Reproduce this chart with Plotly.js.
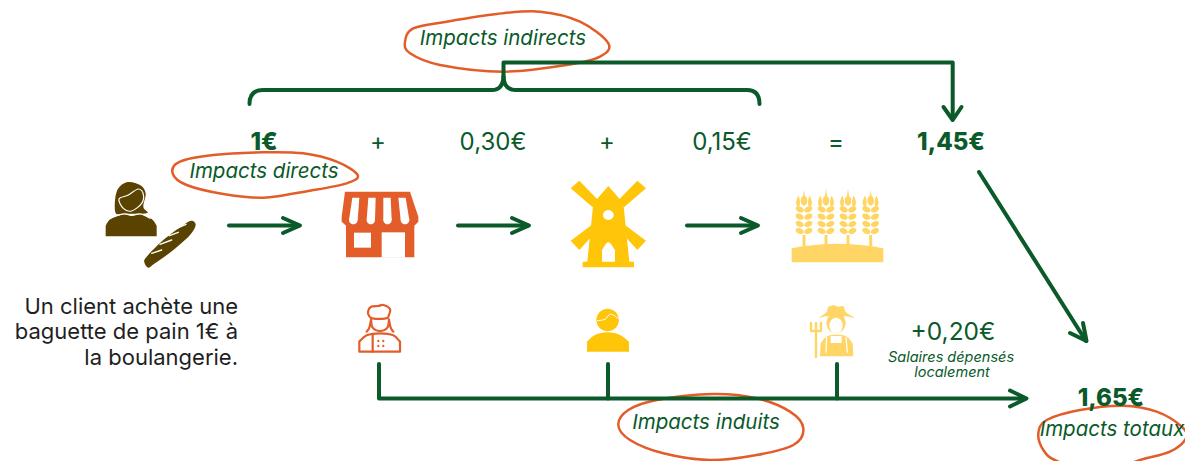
<!DOCTYPE html>
<html><head><meta charset="utf-8">
<script src="https://cdn.plot.ly/plotly-3.0.1.min.js"></script>
<style>html,body{margin:0;padding:0;background:#fff;overflow:hidden}
.shapelayer path{stroke-linecap:round;stroke-linejoin:round}</style>
</head><body><div id="chart" style="width:1185px;height:461px"></div>
<script>
// ---- content
const stepAmounts = ["+","0,30€","+","0,15€","="];
const totalAmounts = ["1€","1,45€","1,65€"];
const inducedAmount = ["+0,20€"];
const impactLabels = ["Impacts indirects","Impacts directs","Impacts induits","Impacts totaux"];
const captionLines = ["Salaires dépensés","localement"];
const descriptionLines = ["Un client achète une","baguette de pain 1€ à","la boulangerie."];

// ---- palette
const GREEN="#0a5a2a", ORANGE="#e25d2a", YELLOW="#ffc509", PALE="#ffd666", BROWN="#5a4300", WHITE="#ffffff";
const FONT="Inter, 'Open Sans', sans-serif";

// ---- path helpers (outlines are read in 3x zoom crops, origin ox/oy)
const map=(o,p)=>[o[0]+p[0]/3,o[1]+p[1]/3];
const fmt=p=>p[0].toFixed(2)+","+p[1].toFixed(2);
const poly=(o,pts,closed=true)=>"M"+pts.map(p=>fmt(map(o,p))).join("L")+(closed?"Z":"");
function curve(o,pts,closed=true){
  const P=pts.map(p=>map(o,p)),n=P.length;let d="M"+fmt(P[0]);
  const g=i=>closed?P[(i+n)%n]:P[Math.max(0,Math.min(n-1,i))];
  for(let i=0;i<(closed?n:n-1);i++){
    const a=g(i-1),b=g(i),c=g(i+1),e=g(i+2);
    d+="C"+fmt([b[0]+(c[0]-a[0])/6,b[1]+(c[1]-a[1])/6])+" "+fmt([c[0]-(e[0]-b[0])/6,c[1]-(e[1]-b[1])/6])+" "+fmt(c);
  }
  return d+(closed?"Z":"");
}
function oval(o,cx,cy,rx,ry,deg=0){
  const t=deg*Math.PI/180,pts=[];
  for(let i=0;i<8;i++){const a=i*Math.PI/4,x=rx*Math.cos(a),y=ry*Math.sin(a);
    pts.push([cx+x*Math.cos(t)-y*Math.sin(t),cy+x*Math.sin(t)+y*Math.cos(t)]);}
  return curve(o,pts);
}
const shapes=[];
const fill=(path,color)=>shapes.push({type:"path",xref:"x",yref:"y",layer:"below",path,fillcolor:color,line:{width:0}});
const stroke=(path,color,width)=>shapes.push({type:"path",xref:"x",yref:"y",layer:"below",path,fillcolor:"rgba(0,0,0,0)",line:{color,width}});

// ---- hand-drawn ovals
const OW=2.5;
stroke(curve([380,0],[[75,125],[100,85],[200,65],[350,42],[480,35],[600,65],[685,130],[660,170],[560,195],[370,215],[180,195],[90,160]]),ORANGE,OW);
stroke(curve([130,120],[[128,160],[150,125],[250,105],[400,97],[520,100],[620,125],[683,165],[650,190],[540,212],[400,233],[280,222],[170,195]]),ORANGE,OW);
stroke(curve([590,390],[[85,105],[115,60],[200,30],[370,12],[500,25],[600,65],[640,115],[610,165],[500,195],[360,210],[220,190],[120,150]]),ORANGE,OW);
stroke(curve([880,310],[[475,370],[500,330],[600,300],[730,287],[830,305],[905,350],[918,385],[870,425],[780,450],[650,490],[530,453],[490,420]]),ORANGE,OW);

// ---- connectors
const GW=4;
const line=(pts)=>stroke(poly([0,0],pts.map(p=>[p[0]*3,p[1]*3]),false),GREEN,GW);
stroke("M249.5,104 Q249.5,90 263,90 L492,90 Q503,90 503.5,76 Q504,90 515,90 L747,90 Q759.5,90 759.5,104",GREEN,GW);
line([[503.5,78],[503.5,62.5],[952.7,62.5],[952.7,119]]);
line([[943.5,107],[952.7,120],[961.5,107]]);
[[229,299],[458,528],[687,757]].forEach(a=>{
  line([[a[0],225.5],[a[1],225.5]]);
  line([[a[1]-16,218],[a[1]+1,225.5],[a[1]-16,233]]);
});
line([[979,172],[1086,341]]);
line([[1070,333],[1086.5,341],[1083,323]]);
line([[379,364],[379,398.5],[1025,398.5]]);
line([[1010,390.5],[1026.5,398.5],[1010,406.5]]);
line([[608,364],[608,398.5]]);
line([[837,364],[837,398.5]]);

// ---- customer and baguette
const pO=[100,175];
fill(curve(pO,[[46,112],[50,50],[80,22],[120,30],[137,55],[130,95],[143,113],[115,116],[70,116]]),BROWN);
fill(curve(pO,[[17,152],[32,132],[72,118],[95,122],[120,118],[155,132],[170,152]],false)+"L"+fmt(map(pO,[170,184]))+"L"+fmt(map(pO,[17,184]))+"Z",BROWN);
stroke(curve(pO,[[57,72],[85,60],[115,42],[130,58],[125,85],[95,108],[70,100]]),WHITE,1.2);
stroke(curve(pO,[[28,130],[70,117],[95,121],[122,117],[150,130]],false),WHITE,1.2);
fill(curve(pO,[[133,262],[140,245],[190,195],[250,150],[275,137],[287,150],[270,180],[220,225],[165,265],[145,278]]),BROWN);
[[[155,235],[185,225]],[[180,208],[215,195]],[[208,182],[235,172]],[[230,160],[258,148]]].forEach(s=>stroke(poly(pO,s,false),WHITE,1.4));

// ---- shop
const sO=[335,185];
fill(poly(sO,[[30,20],[225,20],[250,95],[250,110],[238,122],[238,217],[33,217],[33,122],[20,110],[20,95]]),ORANGE);
[[[52,38],[73,38],[68,105],[42,105]],[[100,38],[122,38],[120,105],[95,105]],[[145,38],[167,38],[170,105],[145,105]],[[190,38],[212,38],[223,105],[197,105]]].forEach(s=>{
  fill(poly(sO,s),WHITE);
  fill(oval(sO,(s[2][0]+s[3][0])/2,105,(s[2][0]-s[3][0])/2,13),WHITE);
});
fill(poly(sO,[[57,143],[108,143],[108,188],[57,188]]),WHITE);
fill(poly(sO,[[140,142],[210,142],[210,218],[140,218]]),WHITE);

// ---- mill
const mO=[540,170];
const arms=[[[92,55],[118,32],[172,88],[158,112]],[[92,212],[155,165],[150,205],[118,240]]];
arms.forEach(a=>{fill(poly(mO,a),YELLOW);fill(poly(mO,a.map(p=>[410-p[0],p[1]])),YELLOW);});
fill(poly(mO,[[205,48],[250,100],[268,275],[282,275],[282,292],[128,292],[128,275],[142,275],[160,100]]),YELLOW);
fill(oval(mO,205,135,16,15),WHITE);
fill(curve(mO,[[186,240],[205,217],[225,240]],false)+"L"+fmt(map(mO,[225,275]))+"L"+fmt(map(mO,[186,275]))+"Z",WHITE);

// ---- wheat
const wO=[785,180];
[57,123,189,257].forEach((cx,i)=>{
  const top=(i===1||i===2)?25:30;
  fill(poly(wO,[[cx-4,55],[cx,top],[cx+4,55]]),PALE);
  fill(oval(wO,cx,62,10,15),PALE);
  [-1,1].forEach(s=>{
    fill(curve(wO,[[cx+s*17,48],[cx+s*24,68],[cx+s*16,84],[cx+s*12,66]]),PALE);
    [88,110,132,153].forEach(y=>fill(oval(wO,cx+s*13,y,13,8.5,s*-25),PALE));
  });
  fill(poly(wO,[[cx-4.5,165],[cx+4.5,165],[cx+4.5,200],[cx-4.5,200]]),PALE);
});
fill("M"+fmt(map(wO,[20,205]))+"Q"+fmt(map(wO,[157,178]))+" "+fmt(map(wO,[295,205]))+"L"+fmt(map(wO,[295,247]))+"L"+fmt(map(wO,[20,247]))+"Z",PALE);

// ---- chef outline
const cO=[350,295], CW=2.2;
stroke(curve(cO,[[54,50],[62,36],[85,33],[100,30],[120,42],[116,62],[108,70],[67,70],[57,62]]),ORANGE,CW);
stroke(curve(cO,[[63,74],[68,98],[90,108],[112,98],[117,74]],false),ORANGE,CW);
stroke(curve(cO,[[63,74],[58,98],[50,110]],false),ORANGE,CW);
stroke(curve(cO,[[117,74],[122,98],[130,110]],false),ORANGE,CW);
stroke(curve(cO,[[28,140],[50,121],[90,115],[130,121],[150,140]],false)+"L"+fmt(map(cO,[150,170]))+"L"+fmt(map(cO,[28,170]))+"Z",ORANGE,CW);
stroke(poly(cO,[[68,118],[68,170]],false),ORANGE,CW);
[[85,138],[100,138],[85,153],[100,153]].forEach(p=>fill(oval(cO,p[0],p[1],3.5,3.5),ORANGE));

// ---- miller
fill(oval(mO,203,450,34,34),YELLOW);
stroke(curve(mO,[[172,452],[195,448],[212,432],[237,447]],false),WHITE,1);
fill(curve(mO,[[141,515],[165,495],[203,487],[240,495],[267,515]],false)+"L"+fmt(map(mO,[267,545]))+"L"+fmt(map(mO,[141,545]))+"Z",YELLOW);

// ---- farmer
const fO=[800,295];
fill(oval(fO,108,84,29,31),PALE);
fill(poly(fO,[[55,70],[80,52],[85,35],[100,30],[115,35],[130,32],[137,52],[165,70],[140,64],[75,64]]),PALE);
fill(oval(fO,108,92,20,24),WHITE);
stroke(poly(fO,[[33,84],[33,108],[63,108],[63,84]],false),PALE,2.4);
stroke(poly(fO,[[48,84],[48,186]],false),PALE,2.4);
fill(curve(fO,[[62,145],[85,122],[135,122],[158,145]],false)+"L"+fmt(map(fO,[160,184]))+"L"+fmt(map(fO,[60,184]))+"Z",PALE);
fill(poly(fO,[[92,123],[125,123],[125,144],[92,144]]),WHITE);
stroke(poly(fO,[[80,127],[78,172]],false),WHITE,1.2);
stroke(poly(fO,[[138,127],[142,172]],false),WHITE,1.2);

// ---- text traces
const txt=(x,y,text,size,color,pos,extra)=>({type:"scatter",mode:"text",x,y,text,hoverinfo:"skip",showlegend:false,
  textposition:pos||"middle center",cliponaxis:true,
  textfont:Object.assign({family:FONT,size,color},extra||{})});
const data=[
  txt([378,493,607,722,836],[144,144,144,144,144],stepAmounts,24,GREEN),
  txt([264,951,1111],[144,144,400],totalAmounts,24,GREEN,null,{weight:800}),
  txt([953],[334],inducedAmount,24.5,GREEN),
  txt([503,264,706,1112],[40,173,424,431],impactLabels,20.5,GREEN,null,{style:"italic"}),
  txt([951,952],[358,373],captionLines,14.5,GREEN,null,{style:"italic"}),
  txt([238,238,238],[308,333,359],descriptionLines,22,"#1f1f1f","middle left")
];
const layout={width:1185,height:461,margin:{l:0,r:0,t:0,b:0},paper_bgcolor:WHITE,plot_bgcolor:WHITE,showlegend:false,
  xaxis:{range:[0,1185],visible:false,fixedrange:true},
  yaxis:{range:[461,0],visible:false,fixedrange:true},shapes};
Plotly.newPlot("chart",data,layout,{displayModeBar:false,staticPlot:true});
</script></body></html>
